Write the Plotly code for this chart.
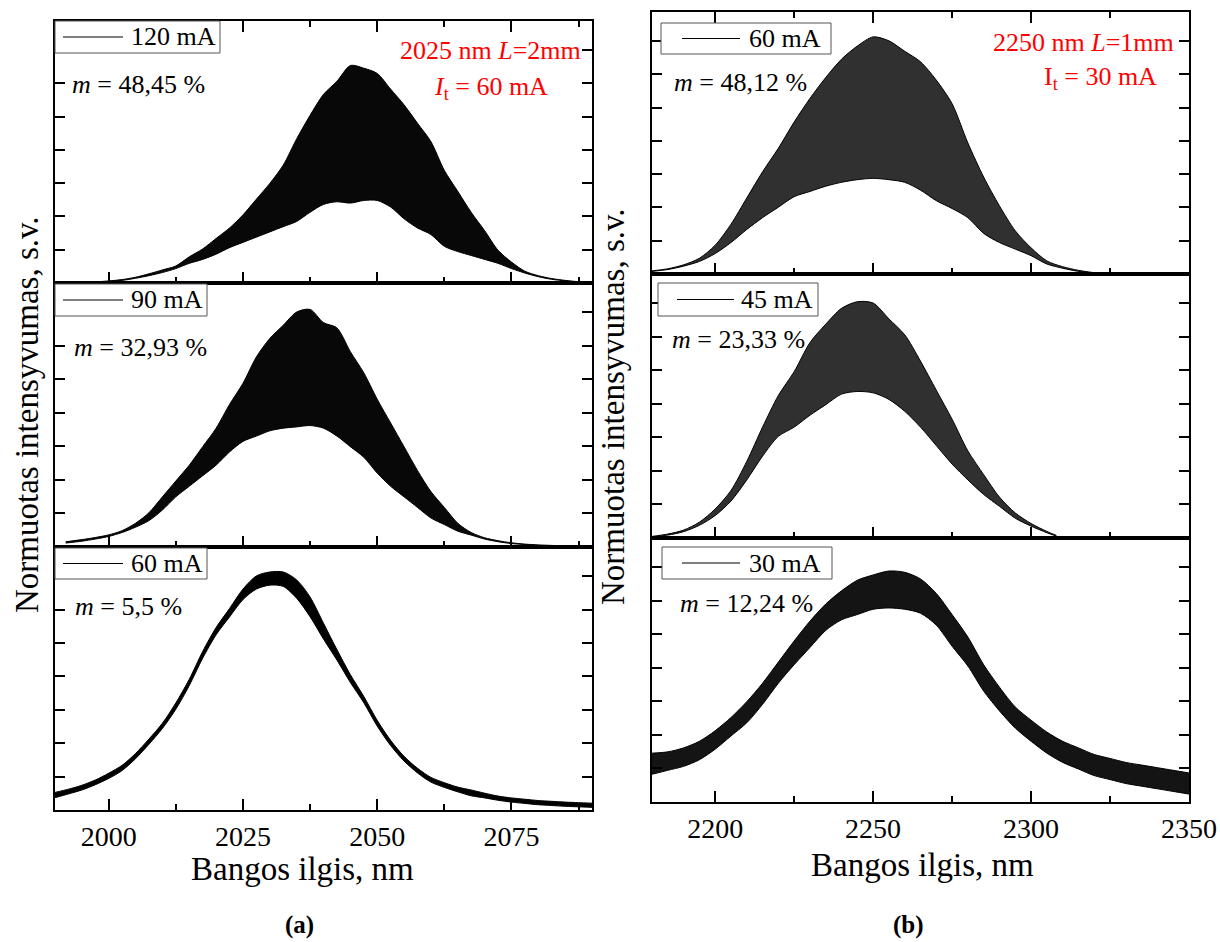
import plotly.graph_objects as go

# ---------------- data (normalised intensity) ----------------
# (a) 2025 nm, L = 2 mm
wl_a120 = [1997.5, 2000, 2002.5, 2005, 2007.5, 2010, 2012.5, 2015, 2017.5, 2020, 2022.5, 2025,
           2027.5, 2030, 2032.5, 2035, 2037.5, 2040, 2042.5, 2045, 2047.5, 2050, 2052.5, 2055,
           2057.5, 2060, 2062.5, 2065, 2067.5, 2070, 2072.5, 2075, 2077.5, 2080, 2082.5, 2085,
           2087.5, 2090]
up_a120 = [0.004, 0.008, 0.013, 0.022, 0.035, 0.05, 0.065, 0.10, 0.13, 0.17, 0.21, 0.26,
           0.32, 0.38, 0.45, 0.55, 0.64, 0.72, 0.77, 0.83, 0.82, 0.80, 0.74, 0.68,
           0.61, 0.54, 0.43, 0.35, 0.27, 0.20, 0.125, 0.08, 0.045, 0.028, 0.017, 0.01,
           0.005, 0.003]
lo_a120 = [0.003, 0.006, 0.010, 0.018, 0.028, 0.04, 0.055, 0.075, 0.09, 0.11, 0.135, 0.155,
           0.175, 0.195, 0.215, 0.235, 0.27, 0.30, 0.31, 0.305, 0.315, 0.315, 0.29, 0.245,
           0.21, 0.185, 0.14, 0.12, 0.105, 0.09, 0.075, 0.055, 0.038, 0.024, 0.014, 0.008,
           0.004, 0.002]

wl_a90 = [1992, 1995, 1997.5, 2000, 2002.5, 2005, 2007.5, 2010, 2012.5, 2015, 2017.5, 2020,
          2022.5, 2025, 2027.5, 2030, 2032.5, 2035, 2037.5, 2040, 2042.5, 2045, 2047.5, 2050,
          2052.5, 2055, 2057.5, 2060, 2062.5, 2065, 2067.5, 2070, 2072.5, 2075, 2077.5, 2080,
          2082.5, 2085, 2087.5]
up_a90 = [0.02, 0.028, 0.036, 0.046, 0.062, 0.09, 0.13, 0.19, 0.25, 0.31, 0.38, 0.45,
          0.54, 0.62, 0.72, 0.79, 0.84, 0.89, 0.90, 0.85, 0.83, 0.74, 0.66, 0.56,
          0.47, 0.38, 0.29, 0.21, 0.15, 0.09, 0.055, 0.035, 0.024, 0.016, 0.011, 0.008,
          0.006, 0.004, 0.003]
lo_a90 = [0.015, 0.022, 0.03, 0.04, 0.055, 0.075, 0.10, 0.14, 0.19, 0.23, 0.27, 0.31,
          0.36, 0.40, 0.42, 0.44, 0.45, 0.455, 0.46, 0.45, 0.42, 0.38, 0.34, 0.28,
          0.23, 0.19, 0.15, 0.11, 0.085, 0.06, 0.045, 0.03, 0.02, 0.013, 0.009, 0.006,
          0.004, 0.003, 0.002]

wl_a60 = [1990, 1992.5, 1995, 1997.5, 2000, 2002.5, 2005, 2007.5, 2010, 2012.5, 2015, 2017.5,
          2020, 2022.5, 2025, 2027.5, 2030, 2032.5, 2035, 2037.5, 2040, 2042.5, 2045, 2047.5,
          2050, 2052.5, 2055, 2057.5, 2060, 2062.5, 2065, 2067.5, 2070, 2072.5, 2075, 2077.5,
          2080, 2082.5, 2085, 2087.5, 2090]
up_a60 = [0.067, 0.079, 0.094, 0.114, 0.14, 0.17, 0.215, 0.27, 0.33, 0.407, 0.497, 0.603,
          0.694, 0.766, 0.84, 0.89, 0.905, 0.905, 0.875, 0.81, 0.71, 0.61, 0.515, 0.432,
          0.341, 0.265, 0.204, 0.159, 0.124, 0.104, 0.087, 0.076, 0.064, 0.053, 0.046, 0.041,
          0.036, 0.033, 0.030, 0.028, 0.026]
lo_a60 = [0.047, 0.061, 0.076, 0.096, 0.12, 0.15, 0.195, 0.25, 0.31, 0.383, 0.473, 0.577,
          0.666, 0.734, 0.80, 0.84, 0.855, 0.85, 0.805, 0.735, 0.65, 0.57, 0.485, 0.408,
          0.319, 0.245, 0.186, 0.141, 0.106, 0.086, 0.069, 0.054, 0.046, 0.037, 0.030, 0.025,
          0.020, 0.017, 0.014, 0.012, 0.010]

# (b) 2250 nm, L = 1 mm
wl_b60 = [2180, 2185, 2190, 2195, 2200, 2205, 2210, 2215, 2220, 2225, 2230, 2235, 2240, 2245,
          2250, 2255, 2260, 2265, 2270, 2275, 2280, 2285, 2290, 2295, 2300, 2305, 2310, 2315, 2320]
up_b60 = [0.012, 0.02, 0.035, 0.06, 0.11, 0.19, 0.29, 0.39, 0.48, 0.58, 0.67, 0.75, 0.82, 0.87,
          0.905, 0.89, 0.85, 0.81, 0.74, 0.65, 0.50, 0.37, 0.26, 0.165, 0.10, 0.05, 0.028, 0.014, 0.005]
lo_b60 = [0.010, 0.017, 0.03, 0.048, 0.078, 0.12, 0.17, 0.215, 0.255, 0.295, 0.315, 0.335, 0.35, 0.36,
          0.365, 0.36, 0.35, 0.32, 0.28, 0.25, 0.215, 0.155, 0.12, 0.095, 0.07, 0.038, 0.022, 0.010, 0.003]

wl_b45 = [2180, 2185, 2190, 2195, 2200, 2205, 2210, 2215, 2220, 2225, 2230, 2235, 2240, 2245,
          2250, 2255, 2260, 2265, 2270, 2275, 2280, 2285, 2290, 2295, 2300, 2305, 2308]
up_b45 = [0.006, 0.015, 0.03, 0.06, 0.11, 0.18, 0.29, 0.42, 0.54, 0.63, 0.74, 0.81, 0.87, 0.895,
          0.89, 0.83, 0.77, 0.67, 0.56, 0.45, 0.33, 0.24, 0.155, 0.095, 0.055, 0.025, 0.01]
lo_b45 = [0.004, 0.011, 0.024, 0.048, 0.085, 0.14, 0.22, 0.31, 0.385, 0.42, 0.465, 0.505, 0.545, 0.555,
          0.55, 0.525, 0.48, 0.42, 0.35, 0.28, 0.22, 0.165, 0.12, 0.075, 0.045, 0.02, 0.007]

wl_b30 = [2180, 2185, 2190, 2195, 2200, 2205, 2210, 2215, 2220, 2225, 2230, 2235, 2240, 2245,
          2250, 2255, 2260, 2265, 2270, 2275, 2280, 2285, 2290, 2295, 2300, 2305, 2310, 2315,
          2320, 2325, 2330, 2335, 2340, 2345, 2350]
up_b30 = [0.185, 0.19, 0.205, 0.23, 0.27, 0.32, 0.38, 0.45, 0.53, 0.61, 0.685, 0.75, 0.80, 0.84,
          0.86, 0.875, 0.87, 0.845, 0.79, 0.71, 0.625, 0.52, 0.435, 0.36, 0.31, 0.265, 0.23, 0.205,
          0.18, 0.165, 0.15, 0.14, 0.13, 0.12, 0.11]
lo_b30 = [0.105, 0.12, 0.135, 0.16, 0.20, 0.25, 0.30, 0.37, 0.45, 0.52, 0.585, 0.65, 0.69, 0.71,
          0.73, 0.735, 0.73, 0.715, 0.67, 0.59, 0.515, 0.42, 0.345, 0.28, 0.23, 0.185, 0.15, 0.125,
          0.10, 0.085, 0.07, 0.06, 0.05, 0.04, 0.03]

currents = ["120 mA", "90 mA", "60 mA", "60 mA", "45 mA", "30 mA"]
mod_depth = ["48,45 %", "32,93 %", "5,5 %", "48,12 %", "23,33 %", "12,24 %"]
xticks_a = [2000, 2025, 2050, 2075]
xticks_b = [2200, 2250, 2300, 2350]

# ---------------- layout helpers ----------------
W, H = 1220, 942
FONT = "Liberation Serif"


def fx(px):
    return px / W


def fy(py):
    return 1 - py / H


# panel pixel boxes: (left, right, top, bottom)
panels = [
    (55, 592, 21, 283), (55, 592, 283, 547), (55, 592, 547, 810),
    (652, 1189, 12, 274), (652, 1189, 274, 538), (652, 1189, 538, 802),
]
series = [
    (wl_a120, up_a120, lo_a120, "#080808"),
    (wl_a90, up_a90, lo_a90, "#080808"),
    (wl_a60, up_a60, lo_a60, "#000000"),
    (wl_b60, up_b60, lo_b60, "#303030"),
    (wl_b45, up_b45, lo_b45, "#303030"),
    (wl_b30, up_b30, lo_b30, "#141414"),
]

fig = go.Figure()
layout = dict(
    width=W, height=H, margin=dict(l=0, r=0, t=0, b=0, autoexpand=False), autosize=False,
    paper_bgcolor="white", plot_bgcolor="white", showlegend=False,
    font=dict(family=FONT, color="black"),
)

for i, ((l, r, t, b), (wl, up, lo, col)) in enumerate(zip(panels, series)):
    n = i + 1
    xa = "x" if n == 1 else f"x{n}"
    ya = "y" if n == 1 else f"y{n}"
    fig.add_trace(go.Scatter(x=wl, y=lo, mode="lines",
                             line=dict(color="#000000", width=1, shape="spline", smoothing=0.8),
                             xaxis=xa, yaxis=ya, hoverinfo="skip"))
    fig.add_trace(go.Scatter(x=wl, y=up, mode="lines",
                             line=dict(color="#000000", width=1, shape="spline", smoothing=0.8),
                             fill="tonexty", fillcolor=col, xaxis=xa, yaxis=ya, hoverinfo="skip"))
    left_col = i < 3
    is_top = i in (0, 3)
    is_bottom = i in (2, 5)
    xkey = "xaxis" if n == 1 else f"xaxis{n}"
    ykey = "yaxis" if n == 1 else f"yaxis{n}"
    layout[xkey] = dict(
        domain=[fx(l), fx(r)], anchor=ya, automargin=False,
        range=[1990, 2090] if left_col else [2180, 2350],
        tickvals=xticks_a if left_col else xticks_b,
        ticks="inside", ticklen=11, tickwidth=1.5, tickcolor="black",
        minor=dict(ticks="inside", ticklen=6, tickwidth=1.5, tickcolor="black",
                   dtick=12.5 if left_col else 25, tick0=2000),
        showline=True, linecolor="black", linewidth=2,
        mirror="allticks" if is_top else True,
        showgrid=False, zeroline=False,
        showticklabels=is_bottom,
        tickfont=dict(family=FONT, size=28, color="black"),
    )
    layout[ykey] = dict(
        domain=[fy(b), fy(t)], anchor=xa, range=[0, 1], automargin=False,
        tick0=0, dtick=0.127, ticks="inside", ticklen=10, tickwidth=1.5, tickcolor="black",
        showline=True, linecolor="black", linewidth=2, mirror="allticks",
        showgrid=False, zeroline=False, showticklabels=False,
    )

fig.update_layout(**layout)

# legend boxes (line sample + current) and modulation depth text
legend_boxes = [
    (55, 220, 21, 53, 63, 123, 129), (55, 207, 284, 316, 63, 123, 129), (55, 207, 548, 579, 63, 123, 129),
    (661, 831, 23, 54, 682, 740, 747), (658, 818, 283, 316, 677, 734, 739), (662, 832, 547, 579, 682, 740, 747),
]
m_pos = [(70, 85), (72, 347), (73, 606), (672, 83), (670, 339), (678, 603)]
shapes = []
annotations = []
for (x0, x1, y0, y1, lx0, lx1, tx), cur, md, (mx, my) in zip(legend_boxes, currents, mod_depth, m_pos):
    shapes.append(dict(type="rect", xref="paper", yref="paper", x0=fx(x0), x1=fx(x1),
                       y0=fy(y1), y1=fy(y0), line=dict(color="#555555", width=1),
                       fillcolor="white", layer="above"))
    ym = (y0 + y1) / 2
    shapes.append(dict(type="line", xref="paper", yref="paper", x0=fx(lx0), x1=fx(lx1),
                       y0=fy(ym), y1=fy(ym), line=dict(color="black", width=1), layer="above"))
    annotations.append(dict(xref="paper", yref="paper", x=fx(tx), y=fy(ym), text=cur,
                            showarrow=False, xanchor="left", yanchor="middle",
                            font=dict(family=FONT, size=26, color="black")))
    annotations.append(dict(xref="paper", yref="paper", x=fx(mx), y=fy(my),
                            text=f"<i>m</i> = {md}", showarrow=False, xanchor="left",
                            yanchor="middle", font=dict(family=FONT, size=26, color="black")))

red = "#ff0000"
annotations += [
    dict(xref="paper", yref="paper", x=fx(490), y=fy(51), text="2025 nm <i>L</i>=2mm",
         showarrow=False, xanchor="center", yanchor="middle", font=dict(family=FONT, size=26, color=red)),
    dict(xref="paper", yref="paper", x=fx(491), y=fy(88), text="<i>I</i><sub>t</sub> = 60 mA",
         showarrow=False, xanchor="center", yanchor="middle", font=dict(family=FONT, size=26, color=red)),
    dict(xref="paper", yref="paper", x=fx(1083), y=fy(43), text="2250 nm <i>L</i>=1mm",
         showarrow=False, xanchor="center", yanchor="middle", font=dict(family=FONT, size=26, color=red)),
    dict(xref="paper", yref="paper", x=fx(1100), y=fy(78), text="I<sub>t</sub> = 30 mA",
         showarrow=False, xanchor="center", yanchor="middle", font=dict(family=FONT, size=26, color=red)),
    # axis titles
    dict(xref="paper", yref="paper", x=fx(27), y=fy(415), text="Normuotas intensyvumas, s.v.",
         showarrow=False, textangle=-90, xanchor="center", yanchor="middle",
         font=dict(family=FONT, size=33, color="black")),
    dict(xref="paper", yref="paper", x=fx(613), y=fy(407), text="Normuotas intensyvumas, s.v.",
         showarrow=False, textangle=-90, xanchor="center", yanchor="middle",
         font=dict(family=FONT, size=33, color="black")),
    dict(xref="paper", yref="paper", x=fx(302), y=fy(869), text="Bangos ilgis, nm",
         showarrow=False, xanchor="center", yanchor="middle", font=dict(family=FONT, size=33, color="black")),
    dict(xref="paper", yref="paper", x=fx(922), y=fy(865), text="Bangos ilgis, nm",
         showarrow=False, xanchor="center", yanchor="middle", font=dict(family=FONT, size=33, color="black")),
    # sub-figure captions
    dict(xref="paper", yref="paper", x=fx(299), y=fy(925), text="<b>(a)</b>",
         showarrow=False, xanchor="center", yanchor="middle", font=dict(family=FONT, size=25, color="black")),
    dict(xref="paper", yref="paper", x=fx(908), y=fy(925), text="<b>(b)</b>",
         showarrow=False, xanchor="center", yanchor="middle", font=dict(family=FONT, size=25, color="black")),
]

fig.update_layout(shapes=shapes, annotations=annotations)
fig.write_html("out.html", config={"responsive": False})
